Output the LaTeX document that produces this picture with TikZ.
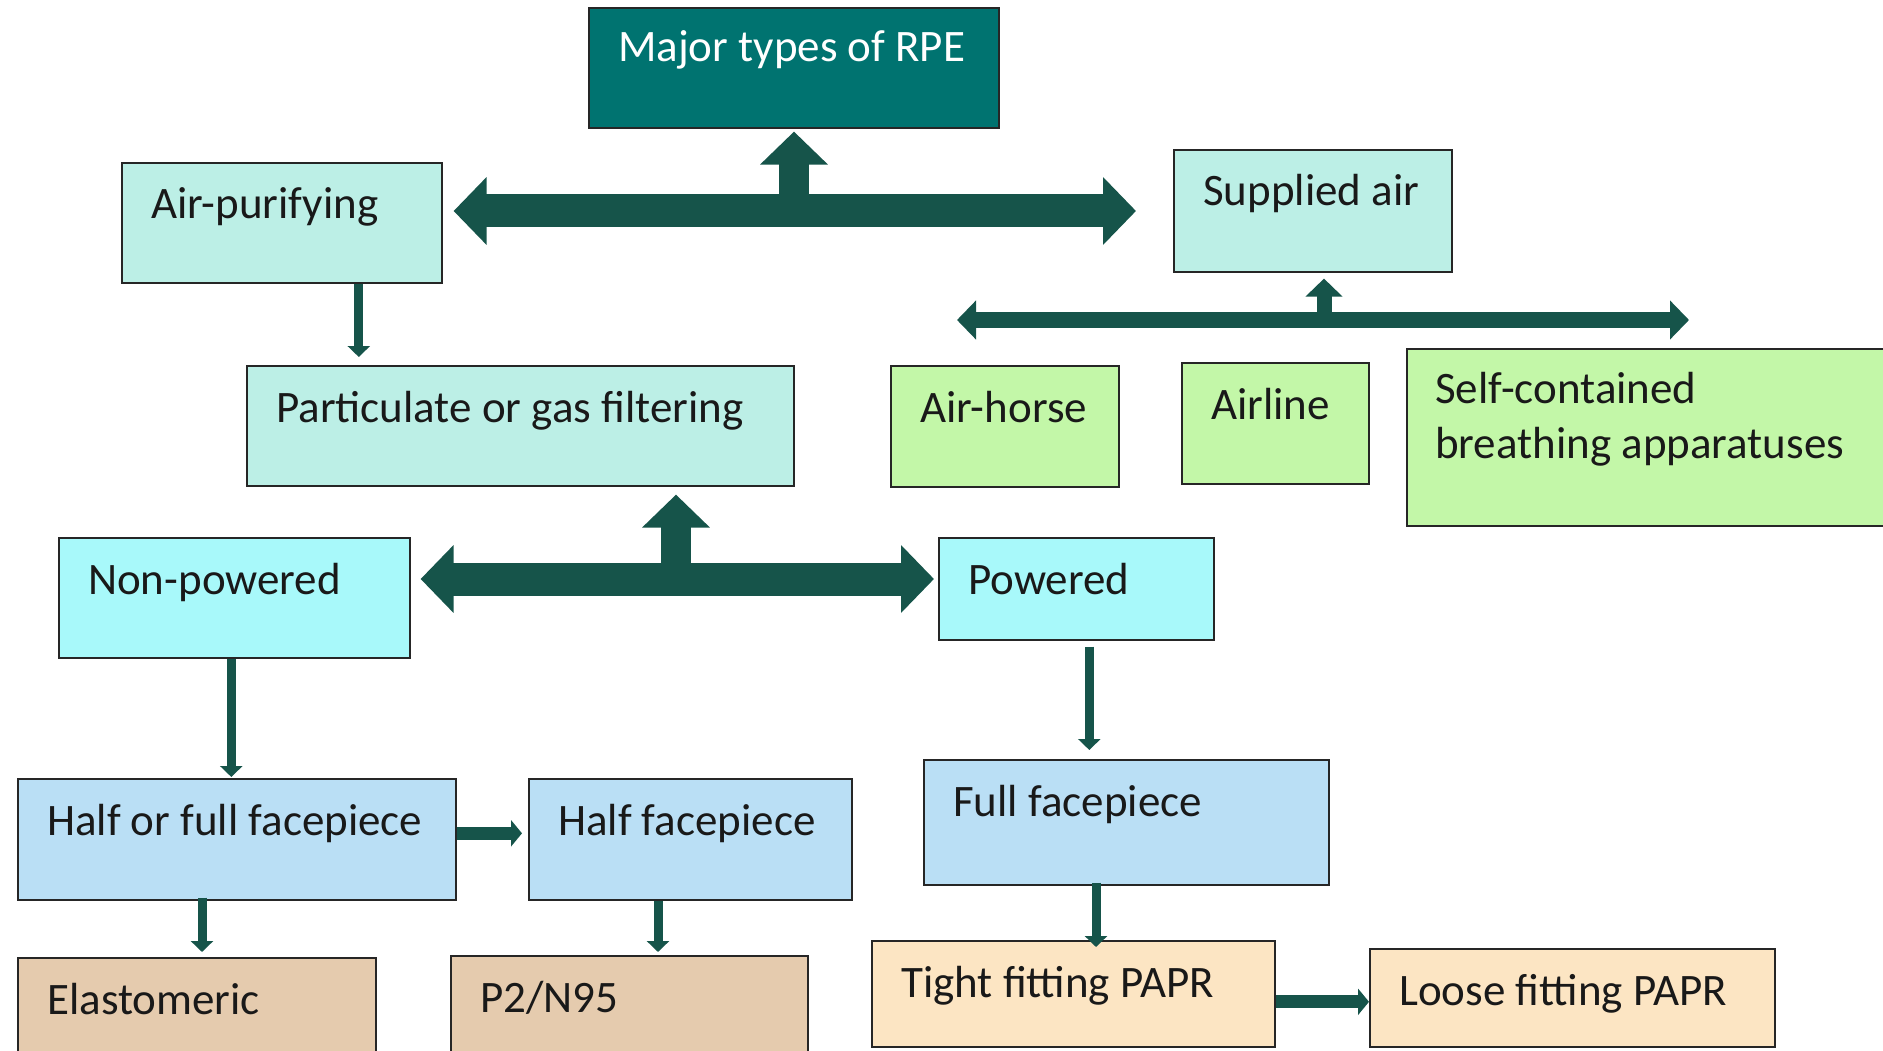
\documentclass[tikz,border=0pt]{standalone}
\usepackage{fontspec}
\setmainfont{Carlito}
\usetikzlibrary{arrows.meta,calc}
\definecolor{arrowc}{HTML}{16544A}
\definecolor{topc}{HTML}{007370}
\definecolor{tealc}{HTML}{BCEFE6}
\definecolor{greenc}{HTML}{C3F7A8}
\definecolor{cyanc}{HTML}{A8F9FA}
\definecolor{bluec}{HTML}{BADFF5}
\definecolor{tanc}{HTML}{E5CBAE}
\definecolor{creamc}{HTML}{FCE5C3}
\tikzset{
  boxst/.style={draw=black!85, line width=1.6pt, anchor=north west, inner sep=0pt},
  txt/.style={anchor=base west, inner sep=0pt, font=\fontsize{45}{53}\selectfont, text=black!90},
  bigarrow/.style={draw=arrowc, line width=33pt, {Triangle[width=66pt,length=33pt]}-{Triangle[width=66pt,length=33pt]}},
  bigup/.style={draw=arrowc, line width=30pt, -{Triangle[width=66pt,length=33pt]}},
  midarrow/.style={draw=arrowc, line width=16pt, {Triangle[width=38pt,length=19pt]}-{Triangle[width=38pt,length=19pt]}},
  midup/.style={draw=arrowc, line width=15pt, -{Triangle[width=36pt,length=18pt]}},
  smallarrow/.style={draw=arrowc, line width=9pt, -{Triangle[width=22pt,length=11pt]}},
  flatarrow/.style={draw=arrowc, line width=13pt, -{Triangle[width=26pt,length=11pt]}},
}
\newcommand\mybox[7]{%
  \node[boxst, fill=#2, minimum width=#5pt, minimum height=#6pt] (#1) at (#3,#4) {};
  \node[txt] (#1t) at ($(#1.north west)+(30,57)$) {#7};}
\begin{document}
\begin{tikzpicture}[x=1pt,y=-1pt]
\useasboundingbox (0,0) rectangle (1883,1051);
% boxes
\node[boxst, fill=topc, minimum width=410pt, minimum height=120pt] (mj) at (588,7) {};
\node[txt, text=white] (mjt) at ($(mj.north west)+(30,55)$) {Major types of RPE};
\mybox{ap}{tealc}{121}{162}{320}{120}{Air-purifying}
\mybox{sa}{tealc}{1173}{149}{278}{122}{Supplied air}
\mybox{pf}{tealc}{246}{365}{547}{120}{Particulate or gas filtering}
\mybox{ah}{greenc}{890}{365}{228}{121}{Air-horse}
\mybox{al}{greenc}{1181}{362}{187}{121}{Airline}
\node[boxst, fill=greenc, minimum width=490pt, minimum height=177pt] (sc) at (1406,348) {};
\node[txt] (sct1) at ($(sc.north west)+(29,55)$) {Self-contained};
\node[txt] (sct2) at ($(sc.north west)+(29,110)$) {breathing apparatuses};
\mybox{np}{cyanc}{58}{537}{351}{120}{Non-powered}
\mybox{pw}{cyanc}{938}{537}{275}{102}{Powered}
\mybox{hf}{bluec}{17}{778}{438}{121}{Half or full facepiece}
\mybox{hp}{bluec}{528}{778}{323}{121}{Half facepiece}
\mybox{ff}{bluec}{923}{759}{405}{125}{Full facepiece}
\mybox{el}{tanc}{17}{957}{358}{110}{Elastomeric}
\mybox{p2}{tanc}{450}{955}{357}{112}{P2/N95}
\mybox{tf}{creamc}{871}{940}{403}{106}{Tight fitting PAPR}
\mybox{lf}{creamc}{1369}{948}{405}{98}{Loose fitting PAPR}
% connector free ends
\coordinate (j1) at (794,211);
\coordinate (j2) at (676,579);
\coordinate (j3) at (1324,320);
% big arrows
\draw[bigarrow] ($(ap.east |- j1)+(11,0)$) -- ($(sa.west |- j1)+(-37,0)$);
\draw[bigup] (j1) -- ($(j1 |- mj.south)+(0,3)$);
\draw[bigarrow] ($(np.east |- j2)+(10,0)$) -- ($(pw.west |- j2)+(-4,0)$);
\draw[bigup] (j2) -- ($(j2 |- pf.south)+(0,8)$);
% supplied air branch
\draw[midarrow] ($(ah.north west |- j3)+(67,0)$) -- ($(sc.north west |- j3)+(283,0)$);
\draw[midup] (j3) -- ($(j3 |- sa.south)+(0,6)$);
% small arrows
\draw[smallarrow] ($(ap.south)+(77,0)$) -- ($(ap.south |- pf.north)+(77,-8)$);
\draw[smallarrow] ($(np.south)+(-3,0)$) -- ($(np.south |- hf.north)+(-3,-1)$);
\draw[smallarrow] ($(pw.south)+(13,6)$) -- ($(pw.south |- ff.north)+(13,-9)$);
\draw[smallarrow] ($(hf.south west)+(185,-3)$) -- ($(hf.south west |- el.north)+(185,-5)$);
\draw[smallarrow] ($(hp.south west)+(130,0)$) -- ($(hp.south west |- p2.north)+(130,-3)$);
\draw[smallarrow] ($(ff.south west)+(173,-3)$) -- ($(ff.south west |- tf.north)+(173,7)$);
\draw[flatarrow] ($(hf.east)+(0,-6)$) -- ($(hp.west)+(-6,-6)$);
\draw[flatarrow] ($(tf.east)+(0,8)$) -- ($(lf.west)+(0,4)$);
\end{tikzpicture}
\end{document}
